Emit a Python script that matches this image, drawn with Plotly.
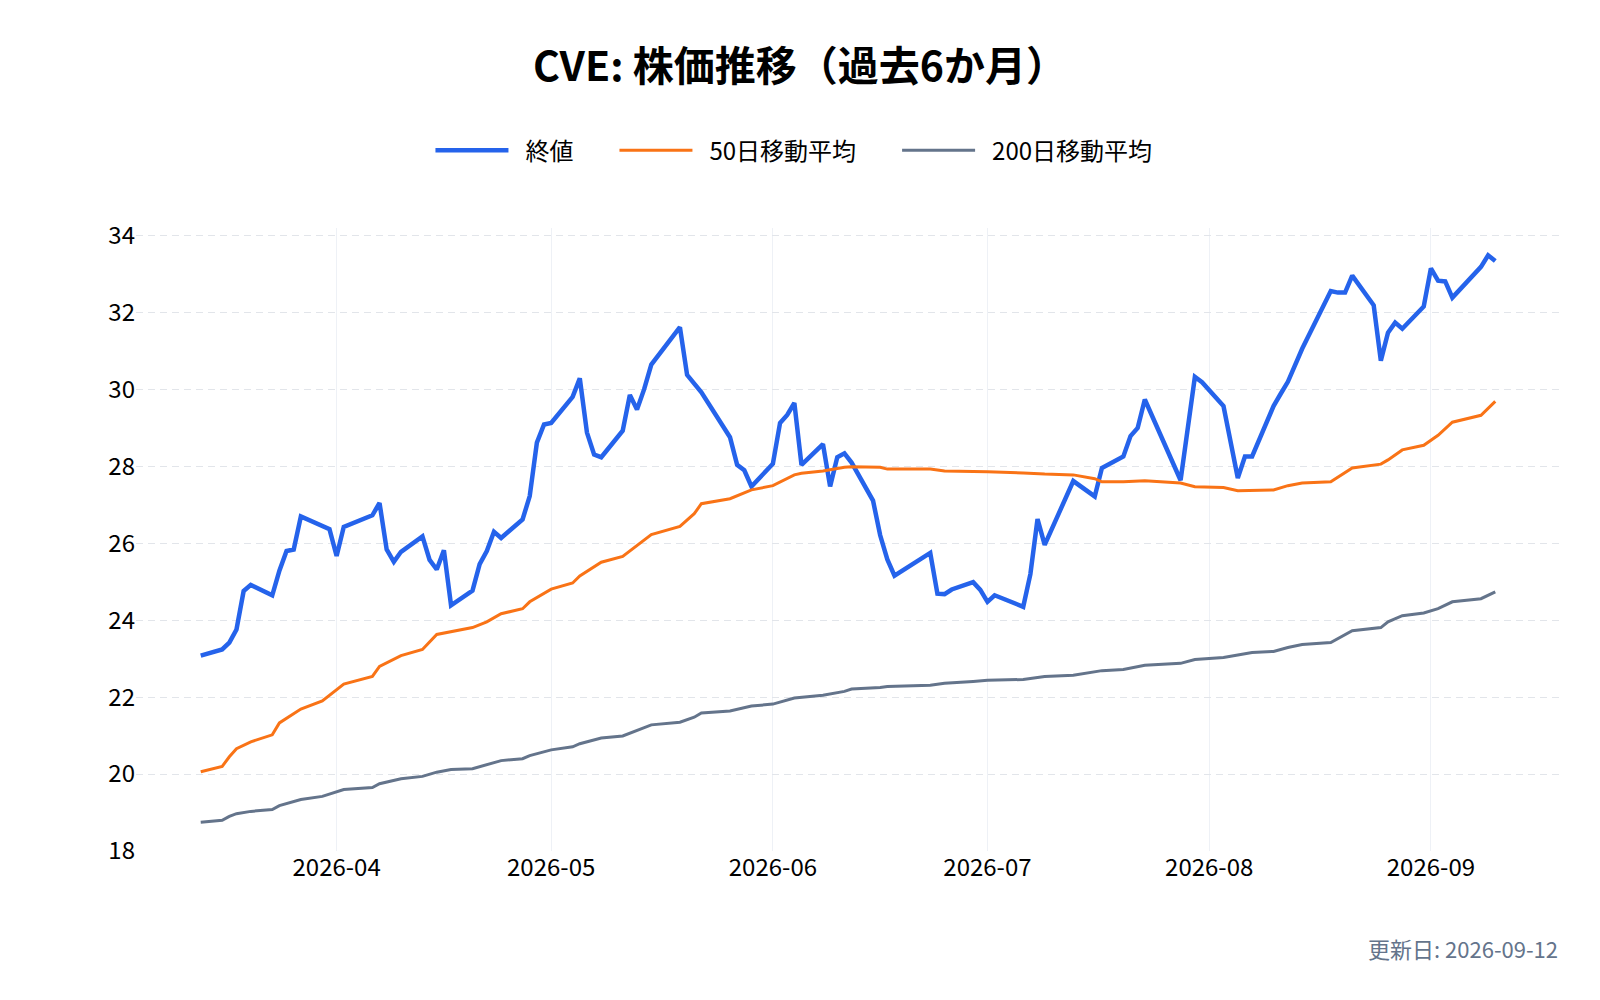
import pandas as pd
import plotly.graph_objects as go

# 終値 (close) — vertices
close_dates = [
    "2026-03-13", "2026-03-16", "2026-03-17", "2026-03-18", "2026-03-19", "2026-03-20",
    "2026-03-23", "2026-03-24", "2026-03-25", "2026-03-26", "2026-03-27", "2026-03-30",
    "2026-03-31", "2026-04-01", "2026-04-02", "2026-04-06", "2026-04-07", "2026-04-08",
    "2026-04-09", "2026-04-10", "2026-04-13", "2026-04-14", "2026-04-15", "2026-04-16",
    "2026-04-17", "2026-04-20", "2026-04-21", "2026-04-22", "2026-04-23", "2026-04-24",
    "2026-04-27", "2026-04-28", "2026-04-29", "2026-04-30", "2026-05-01", "2026-05-04",
    "2026-05-05", "2026-05-06", "2026-05-07", "2026-05-08", "2026-05-11", "2026-05-12",
    "2026-05-13", "2026-05-14", "2026-05-15", "2026-05-19", "2026-05-20", "2026-05-22",
    "2026-05-26", "2026-05-27", "2026-05-28", "2026-05-29", "2026-06-01", "2026-06-02",
    "2026-06-03", "2026-06-04", "2026-06-05", "2026-06-08", "2026-06-09", "2026-06-10",
    "2026-06-11", "2026-06-12", "2026-06-15", "2026-06-16", "2026-06-17", "2026-06-18",
    "2026-06-23", "2026-06-24", "2026-06-25", "2026-06-26", "2026-06-29", "2026-06-30",
    "2026-07-01", "2026-07-02", "2026-07-06", "2026-07-07", "2026-07-08", "2026-07-09",
    "2026-07-13", "2026-07-16", "2026-07-17", "2026-07-20", "2026-07-21", "2026-07-22",
    "2026-07-23", "2026-07-28", "2026-07-30", "2026-07-31", "2026-08-03", "2026-08-05",
    "2026-08-06", "2026-08-07", "2026-08-10", "2026-08-11", "2026-08-12", "2026-08-14",
    "2026-08-18", "2026-08-19", "2026-08-20", "2026-08-21", "2026-08-24", "2026-08-25",
    "2026-08-26", "2026-08-27", "2026-08-28", "2026-08-31", "2026-09-01", "2026-09-02",
    "2026-09-03", "2026-09-04", "2026-09-08", "2026-09-09", "2026-09-10",
]
close_values = [
    23.08, 23.24, 23.42, 23.76, 24.76, 24.92,
    24.65, 25.29, 25.80, 25.84, 26.70, 26.43,
    26.37, 25.67, 26.43, 26.73, 27.05, 25.84,
    25.52, 25.78, 26.18, 25.57, 25.32, 25.82,
    24.39, 24.77, 25.46, 25.80, 26.30, 26.14,
    26.62, 27.23, 28.62, 29.09, 29.13, 29.81,
    30.29, 28.88, 28.31, 28.24, 28.93, 29.86,
    29.48, 30.01, 30.65, 31.62, 30.38, 29.93,
    28.76, 28.04, 27.90, 27.48, 28.07, 29.13,
    29.34, 29.65, 28.04, 28.58, 27.48, 28.24,
    28.34, 28.10, 27.11, 26.21, 25.58, 25.16,
    25.75, 24.69, 24.68, 24.80, 24.99, 24.79,
    24.48, 24.65, 24.35, 25.20, 26.63, 25.96,
    27.62, 27.22, 27.96, 28.26, 28.79, 29.00,
    29.74, 27.64, 30.33, 30.19, 29.57, 27.70,
    28.26, 28.26, 29.57, 29.89, 30.20, 31.06,
    32.56, 32.52, 32.52, 32.96, 32.19, 30.75,
    31.48, 31.74, 31.58, 32.16, 33.15, 32.83,
    32.81, 32.39, 33.19, 33.49, 33.34,
]

# 移動平均 — vertices
ma_dates = [
    "2026-03-13", "2026-03-16", "2026-03-17", "2026-03-18", "2026-03-20", "2026-03-23",
    "2026-03-24", "2026-03-27", "2026-03-30", "2026-04-02", "2026-04-06", "2026-04-07",
    "2026-04-10", "2026-04-13", "2026-04-15", "2026-04-17", "2026-04-20", "2026-04-22",
    "2026-04-24", "2026-04-27", "2026-04-28", "2026-05-01", "2026-05-04", "2026-05-05",
    "2026-05-08", "2026-05-11", "2026-05-15", "2026-05-19", "2026-05-21", "2026-05-22",
    "2026-05-26", "2026-05-29", "2026-06-01", "2026-06-04", "2026-06-05", "2026-06-08",
    "2026-06-11", "2026-06-12", "2026-06-16", "2026-06-17", "2026-06-23", "2026-06-25",
    "2026-06-29", "2026-07-01", "2026-07-06", "2026-07-09", "2026-07-13", "2026-07-16",
    "2026-07-17", "2026-07-20", "2026-07-23", "2026-07-28", "2026-07-30", "2026-08-03",
    "2026-08-05", "2026-08-07", "2026-08-10", "2026-08-12", "2026-08-14", "2026-08-18",
    "2026-08-21", "2026-08-25", "2026-08-26", "2026-08-28", "2026-08-31", "2026-09-02",
    "2026-09-04", "2026-09-08", "2026-09-10",
]
ma50_values = [
    20.06, 20.20, 20.45, 20.66, 20.84, 21.02,
    21.33, 21.69, 21.90, 22.34, 22.54, 22.80,
    23.08, 23.24, 23.63, 23.70, 23.81, 23.96,
    24.17, 24.30, 24.48, 24.81, 24.97, 25.15,
    25.51, 25.66, 26.23, 26.44, 26.77, 27.03,
    27.16, 27.39, 27.50, 27.78, 27.82, 27.88,
    27.98, 27.99, 27.98, 27.93, 27.93, 27.88,
    27.87, 27.86, 27.83, 27.80, 27.78, 27.68,
    27.60, 27.60, 27.63, 27.57, 27.47, 27.45,
    27.37, 27.38, 27.39, 27.50, 27.57, 27.60,
    27.96, 28.06, 28.17, 28.43, 28.55, 28.81,
    29.15, 29.33, 29.69,
]
ma200_values = [
    18.75, 18.80, 18.90, 18.97, 19.03, 19.08,
    19.18, 19.34, 19.42, 19.60, 19.65, 19.75,
    19.88, 19.94, 20.05, 20.12, 20.14, 20.24,
    20.35, 20.40, 20.48, 20.63, 20.71, 20.79,
    20.94, 20.99, 21.28, 21.35, 21.48, 21.59,
    21.64, 21.77, 21.82, 21.98, 22.00, 22.05,
    22.15, 22.21, 22.25, 22.28, 22.31, 22.36,
    22.41, 22.44, 22.46, 22.54, 22.57, 22.67,
    22.69, 22.72, 22.83, 22.88, 22.98, 23.03,
    23.10, 23.16, 23.19, 23.29, 23.37, 23.42,
    23.73, 23.81, 23.96, 24.12, 24.19, 24.30,
    24.48, 24.56, 24.74,
]

TITLE = "CVE: 株価推移（過去6か月）"
UPDATED = "更新日: 2026-09-12"
SERIES_NAMES = ["終値", "50日移動平均", "200日移動平均"]
FONT = "Noto Sans CJK JP, Noto Sans, sans-serif"

BLUE = "#2563eb"
ORANGE = "#f97316"
SLATE = "#64748b"

# 5% padding on both ends of the date span
start = pd.Timestamp(close_dates[0])
end = pd.Timestamp(close_dates[-1])
pad = (end - start) * 0.05

# the legend in the original breathes more than plotly's default spacing
LEAD = "\u2002"
TRAIL = "\u2002\u2002\u2002"
legend_names = [LEAD + SERIES_NAMES[0] + TRAIL,
                LEAD + SERIES_NAMES[1] + TRAIL,
                LEAD + SERIES_NAMES[2]]

fig = go.Figure()
fig.add_trace(go.Scatter(
    x=close_dates, y=close_values, mode="lines", name=legend_names[0],
    line=dict(color=BLUE, width=4.5),
))
fig.add_trace(go.Scatter(
    x=ma_dates, y=ma50_values, mode="lines", name=legend_names[1],
    line=dict(color=ORANGE, width=3),
))
fig.add_trace(go.Scatter(
    x=ma_dates, y=ma200_values, mode="lines", name=legend_names[2],
    line=dict(color=SLATE, width=3),
))

fig.update_layout(
    title=dict(
        text=f"<b>{TITLE}</b>", x=0.5, xanchor="center", xref="container",
        y=0.940, yanchor="middle", yref="container",
        font=dict(family=FONT, size=41, color="#000000"),
    ),
    font=dict(family=FONT, size=24, color="#000000"),
    paper_bgcolor="white",
    plot_bgcolor="white",
    margin=dict(l=128, r=32, t=220, b=141),
    showlegend=True,
    legend=dict(
        orientation="h", xref="container", yref="container",
        x=0.2667, xanchor="left", y=0.855, yanchor="middle",
        font=dict(family=FONT, size=24, color="#000000"),
        itemwidth=73,
    ),
    xaxis=dict(
        type="date",
        range=[start - pad, end + pad],
        dtick="M1",
        tickformat="%Y-%m",
        showgrid=True,
        gridcolor="#eef1f6",
        gridwidth=1,
        zeroline=False,
        showline=False,
        tickfont=dict(family=FONT, size=24, color="#000000"),
    ),
    yaxis=dict(
        range=[18, 34.2],
        dtick=2,
        showgrid=True,
        gridcolor="#e2e5ea",
        gridwidth=1,
        griddash="7px,5px",
        zeroline=False,
        showline=False,
        tickfont=dict(family=FONT, size=24, color="#000000"),
    ),
    annotations=[dict(
        text=UPDATED, xref="paper", x=1, xanchor="right",
        yref="paper", y=-0.155, yanchor="middle",
        showarrow=False,
        font=dict(family=FONT, size=22, color=SLATE),
    )],
)

fig.write_html("out.html")
